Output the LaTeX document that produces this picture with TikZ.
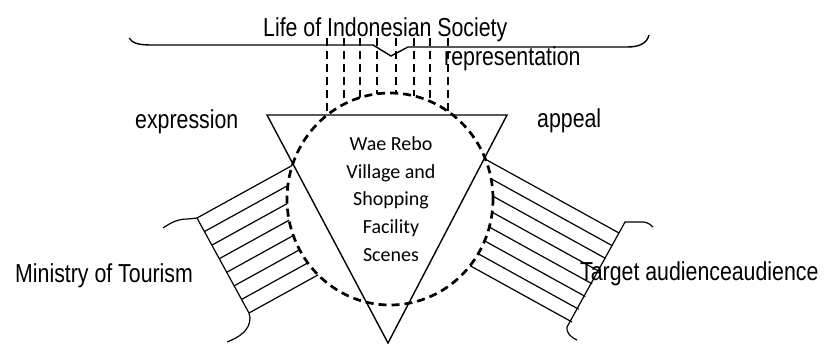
\documentclass[tikz,border=0pt]{standalone}
\usepackage{fontspec}
\setmainfont{Liberation Sans}[FakeStretch=0.82]
\newfontfamily\calib{Carlito}
\usetikzlibrary{calc}
\begin{document}
\begin{tikzpicture}[x=1pt,y=-1pt,
  thinline/.style={line width=1.4pt, black},
  hatch/.style={line width=1.2pt, black},
  dashline/.style={line width=2.7pt, dash pattern=on 8pt off 5pt},
  vdash/.style={line width=2.4pt, dash pattern=on 8pt off 5pt},
  lbl/.style={font=\fontsize{26}{30}\selectfont, inner sep=0pt, anchor=base west},
  scenefont/.style={font=\calib\fontsize{20}{27.8}\selectfont, align=center, inner sep=0pt}]
\useasboundingbox (0,0) rectangle (825,343);

% labels
\node[lbl] (life) at (263,36) {Life of Indonesian Society};
\node[lbl] (repr) at (444,65) {representation};
\node[lbl] (expr) at (135,128) {expression};
\node[lbl] (appeal) at (537,127) {appeal};
\node[lbl] (mot) at (15,282) {Ministry of Tourism};
\node[lbl] (tgt) at (580,280) {Target audienceaudience};
\node[scenefont] (scene) at (391,199) {Wae Rebo\\Village and\\Shopping\\Facility\\Scenes};

% key points
\coordinate (C) at (390,199);
\coordinate (TL) at (267,115);
\coordinate (TR) at (507,115);
\coordinate (TB) at (388,343);
\coordinate (LA) at (197,218);
\coordinate (LB) at (249,313);
\coordinate (RA) at (619,233);
\coordinate (RB) at (572,322);

% top brace
\draw[thinline] (129,38) .. controls (133,44) and (140,45) .. (153,45) -- (373,45) -- (391,56) -- (408,47) -- (627,47) .. controls (640,47) and (647,43) .. (649,35);

% triangle
\draw[thinline] (TL) -- (TR) -- (TB) -- cycle;

% left band outline
\draw[hatch] (163,228) .. controls (172,222) and (178,219) .. (188,219) -- (LA) -- (LB) -- (250,318) .. controls (250,330) and (240,337) .. (227,342);
% right band outline
\draw[hatch] (653,227) .. controls (648,222) and (645,222) .. (640,222) -- (625,222) -- (567,327) .. controls (566,332) and (570,337) .. (577,340);

% everything that stops at the circle
\begin{scope}[even odd rule]
  \clip (-10,-10) rectangle (835,353) (C) ellipse [x radius=103pt, y radius=106pt];
  \foreach \i in {0,...,7}{
    \draw[hatch] ($(LA)!\i/7!(LB)$) -- ++(122.5,-67.6);
    \draw[hatch] ($(RA)!\i/7!(RB)$) -- ++(-157.5,-87);
  }
  \foreach \x in {327,344,360,377,396,414,430,448}{
    \draw[vdash] (\x,38) -- (\x,150);
  }
\end{scope}

% dashed circle
\draw[dashline] (C) ellipse [x radius=103pt, y radius=106pt];
\end{tikzpicture}
\end{document}
